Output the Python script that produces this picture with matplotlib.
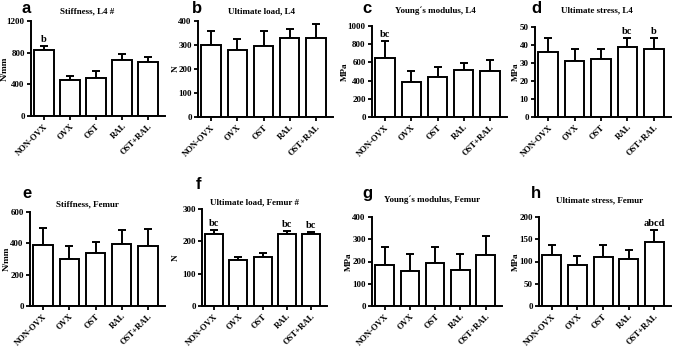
import matplotlib
matplotlib.use("Agg")
import matplotlib.pyplot as plt

W, H = 676, 348

groups = ["NON-OVX", "OVX", "OST", "RAL", "OST+RAL"]

stiff_l4_mean = [830, 450, 485, 705, 685]
stiff_l4_sd = [55, 55, 85, 75, 55]
load_l4_mean = [300, 280, 295, 328, 330]
load_l4_sd = [58, 47, 65, 38, 57]
young_l4_mean = [643, 380, 435, 513, 506]
young_l4_sd = [188, 122, 115, 77, 121]
stress_l4_mean = [36, 31, 32, 39, 38]
stress_l4_sd = [8, 7, 6, 5, 6]

stiff_fem_mean = [390, 302, 340, 395, 380]
stiff_fem_sd = [105, 80, 66, 92, 112]
load_fem_mean = [224, 143, 153, 223, 222]
load_fem_sd = [10, 10, 12, 9, 8]
young_fem_mean = [186, 156, 192, 162, 230]
young_fem_sd = [80, 77, 74, 73, 85]
stress_fem_mean = [115, 92, 109, 105, 143]
stress_fem_sd = [23, 20, 28, 20, 28]

SERIF = "Liberation Serif"
SANS = "Liberation Sans"

# letter, title, ylabel, means, sds, yticks, marks,
# axes box px (x0, y0, x1, y1), letter px, title px (x centre, baseline), ylabel x px
panels = [
    ("a", "Stiffness, L4 #", "N/mm", stiff_l4_mean, stiff_l4_sd, [0, 400, 800, 1200],
     ["b", "", "", "", ""], (31, 21, 165, 116), (22, 13), (87, 13), 5),
    ("b", "Ultimate load, L4", "N", load_l4_mean, load_l4_sd, [0, 100, 200, 300, 400],
     ["", "", "", "", ""], (198, 21, 333, 117), (192, 13), (261, 13), 175.5),
    ("c", "Young\u00b4s modulus, L4", "MPa", young_l4_mean, young_l4_sd, [0, 200, 400, 600, 800, 1000],
     ["bc", "", "", "", ""], (372, 26, 507, 117), (362, 13), (435, 13), 345),
    ("d", "Ultimate stress, L4", "MPa", stress_l4_mean, stress_l4_sd, [0, 10, 20, 30, 40, 50],
     ["", "", "", "bc", "b"], (535, 27, 671, 117), (531, 13), (597, 12), 516),
    ("e", "Stiffness, Femur", "N/mm", stiff_fem_mean, stiff_fem_sd, [0, 200, 400, 600],
     ["", "", "", "", ""], (30, 212, 165, 306), (22, 198), (87, 206), 6.5),
    ("f", "Ultimate load, Femur #", "N", load_fem_mean, load_fem_sd, [0, 100, 200, 300],
     ["bc", "", "", "bc", "bc"], (202, 209, 327, 306), (196, 189), (255, 204), 176),
    ("g", "Young\u00b4s modulus, Femur", "MPa", young_fem_mean, young_fem_sd, [0, 100, 200, 300, 400],
     ["", "", "", "", ""], (372, 217, 502, 306), (362, 198), (432, 202), 348.5),
    ("h", "Ultimate stress, Femur", "MPa", stress_fem_mean, stress_fem_sd, [0, 50, 100, 150, 200],
     ["", "", "", "", "abcd"], (539, 217, 671, 306), (531, 198), (600, 202), 515.5),
]


def main() -> None:
    fig = plt.figure(figsize=(W / 100, H / 100), dpi=100)
    fig.patch.set_facecolor("white")

    for letter, title, ylabel, means, sds, yticks, marks, box, lpos, tpos, ylx in panels:
        x0, y0, x1, y1 = box
        ax = fig.add_axes([x0 / W, 1 - y1 / H, (x1 - x0) / W, (y1 - y0) / H])
        xs = list(range(len(groups)))
        ax.bar(xs, means, width=0.74, color="white", edgecolor="black", linewidth=1.4, zorder=2)
        ax.errorbar(xs, means, yerr=[[0] * len(sds), sds], fmt="none", ecolor="black",
                    elinewidth=1.4, capsize=3.2, capthick=1.4, zorder=1)
        for x, m, s, mark in zip(xs, means, sds, marks):
            if mark:
                ax.annotate(mark, (x, m + s), xytext=(0, 1.5), textcoords="offset points",
                            ha="center", va="bottom", fontsize=7.5, fontweight="bold",
                            family=SERIF)
        ax.set_xlim(-0.5, len(groups) - 0.35)
        ax.set_ylim(yticks[0], yticks[-1])
        ax.set_yticks(yticks)
        ax.set_xticks(xs)
        ax.set_xticklabels(groups, rotation=45, ha="right", rotation_mode="anchor",
                           fontsize=6.2, fontweight="bold", family=SERIF)
        for lab in ax.get_yticklabels():
            lab.set_fontsize(6.5)
            lab.set_fontweight("bold")
            lab.set_family(SERIF)
        ax.tick_params(axis="both", direction="out", length=3, width=1.3, pad=1.5)
        for side in ("top", "right"):
            ax.spines[side].set_visible(False)
        for side in ("left", "bottom"):
            ax.spines[side].set_linewidth(1.4)
        ax.set_ylabel(ylabel, fontsize=6.6, fontweight="bold", family=SERIF)
        ax.yaxis.set_label_coords((ylx - x0) / (x1 - x0), 0.5)
        ax.yaxis.label.set_va("center")

        fig.text(tpos[0] / W, 1 - tpos[1] / H, title, ha="center", va="baseline",
                 fontsize=6.5, fontweight="bold", family=SERIF)
        fig.text(lpos[0] / W, 1 - lpos[1] / H, letter, ha="left", va="baseline",
                 fontsize=12, fontweight="bold", family=SANS)

    fig.savefig("out.png", dpi=100, facecolor="white")
    plt.close(fig)


if __name__ == "__main__":
    main()
